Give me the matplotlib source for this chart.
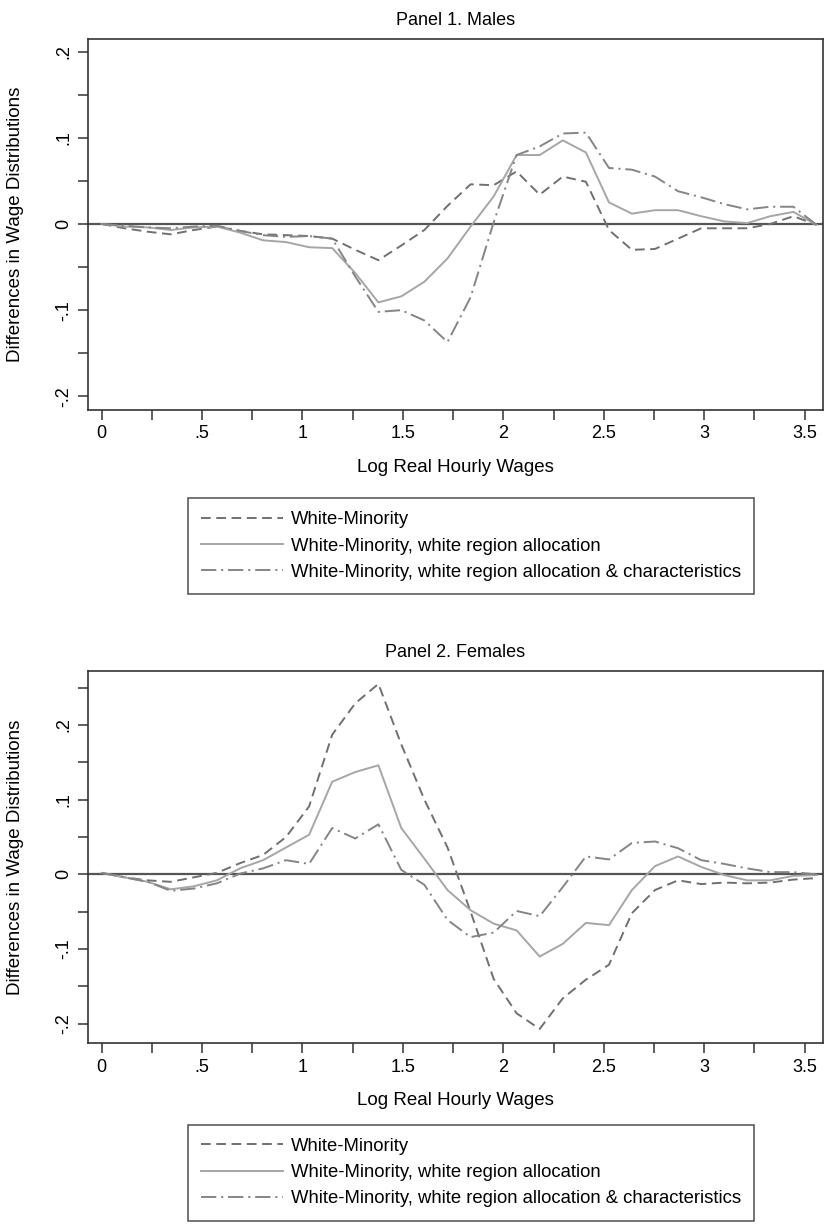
import numpy as np
import matplotlib
matplotlib.use("Agg")
import matplotlib.pyplot as plt

plt.rcParams['font.family'] = ['Liberation Sans', 'DejaVu Sans']
plt.rcParams['lines.scale_dashes'] = False

# log real hourly wage grid (evaluation points)
wage = [0.000, 0.115, 0.230, 0.344, 0.459, 0.574, 0.689, 0.804,
        0.918, 1.033, 1.148, 1.263, 1.378, 1.492, 1.607, 1.722,
        1.837, 1.952, 2.066, 2.181, 2.296, 2.411, 2.526, 2.640,
        2.755, 2.870, 2.985, 3.100, 3.214, 3.329, 3.444, 3.559]

# Panel 1. Males
male_raw = [0.000, -0.005, -0.009, -0.012, -0.007, -0.003, -0.008, -0.012,
            -0.013, -0.014, -0.017, -0.030, -0.042, -0.025, -0.007, 0.021,
            0.046, 0.045, 0.061, 0.034, 0.055, 0.049, -0.007, -0.030,
            -0.029, -0.017, -0.005, -0.005, -0.005, 0.000, 0.009, -0.001]
male_region = [0.000, -0.003, -0.004, -0.007, -0.004, -0.003, -0.010, -0.019,
               -0.021, -0.027, -0.028, -0.057, -0.091, -0.084, -0.067, -0.040,
               -0.003, 0.032, 0.080, 0.080, 0.097, 0.083, 0.025, 0.012,
               0.016, 0.016, 0.009, 0.003, 0.001, 0.009, 0.014, -0.001]
male_chars = [0.000, -0.002, -0.004, -0.005, -0.003, -0.002, -0.008, -0.013,
              -0.015, -0.014, -0.017, -0.061, -0.102, -0.100, -0.112, -0.137,
              -0.085, 0.002, 0.080, 0.090, 0.105, 0.106, 0.065, 0.063,
              0.055, 0.038, 0.031, 0.023, 0.017, 0.020, 0.020, -0.001]

# Panel 2. Females
fem_raw = [0.002, -0.004, -0.008, -0.010, -0.004, 0.002, 0.015, 0.026,
           0.050, 0.091, 0.187, 0.229, 0.255, 0.174, 0.100, 0.036,
           -0.050, -0.140, -0.186, -0.207, -0.166, -0.141, -0.121, -0.052,
           -0.021, -0.008, -0.013, -0.011, -0.012, -0.011, -0.007, -0.005]
fem_region = [0.002, -0.004, -0.010, -0.020, -0.016, -0.008, 0.008, 0.019,
              0.036, 0.053, 0.124, 0.137, 0.146, 0.062, 0.021, -0.021,
              -0.048, -0.066, -0.075, -0.110, -0.093, -0.065, -0.068, -0.021,
              0.011, 0.024, 0.010, -0.001, -0.008, -0.008, -0.002, -0.001]
fem_chars = [0.002, -0.004, -0.010, -0.022, -0.019, -0.012, 0.001, 0.008,
             0.019, 0.014, 0.062, 0.048, 0.067, 0.006, -0.014, -0.061,
             -0.084, -0.078, -0.049, -0.056, -0.017, 0.024, 0.020, 0.042,
             0.044, 0.035, 0.019, 0.014, 0.008, 0.003, 0.003, 0.000]

labels = ['White-Minority',
          'White-Minority, white region allocation',
          'White-Minority, white region allocation & characteristics']
x_major = [0, 0.5, 1, 1.5, 2, 2.5, 3, 3.5]
x_major_lab = ['0', '.5', '1', '1.5', '2', '2.5', '3', '3.5']


def fmt(v):
    s = '%g' % round(v, 2)
    s = s.replace('0.', '.')
    return '0' if s in ('0', '-0') else s


def panel(ax, series, title, ylim, yticks):
    styles = [dict(color='#707070', ls=(0, (7, 4))),
              dict(color='#a6a6a6', ls='-'),
              dict(color='#858585', ls=(0, (11, 3.5, 1.5, 3.5)))]
    ax.axhline(0, color='#555555', lw=1.6, zorder=1)
    for y, st, lab in zip(series, styles, labels):
        ax.plot(wage, y, lw=1.4, label=lab, zorder=2, **st)
    ax.set_xlim(-0.07, 3.59)
    ax.set_ylim(*ylim)
    xt = np.arange(0, 3.51, 0.25)
    ax.set_xticks(xt)
    ax.set_xticklabels([x_major_lab[x_major.index(v)] if v in x_major else ''
                        for v in xt])
    ax.set_yticks(yticks)
    ylab = []
    for v in yticks:
        r = round(v * 10, 6)
        ylab.append(fmt(v) if abs(r - round(r)) < 1e-6 else '')
    ax.set_yticklabels(ylab, rotation=90, va='center')
    ax.tick_params(direction='out', length=7, width=1.1, color='#333333',
                   labelsize=13, pad=4)
    for s in ax.spines.values():
        s.set_color('#333333')
        s.set_linewidth(1.2)
    ax.set_title(title, fontsize=13, pad=10)
    ax.set_xlabel('Log Real Hourly Wages', fontsize=13.5, labelpad=12)
    ax.set_ylabel('Differences in Wage Distributions', fontsize=13.5)
    ax.yaxis.set_label_coords(-0.087, 0.5)


fig = plt.figure(figsize=(8.26, 12.27), dpi=100)
ax1 = fig.add_axes([0.106, 0.6659, 0.890, 0.3027])
ax2 = fig.add_axes([0.106, 0.1497, 0.890, 0.3034])

panel(ax1, [male_raw, male_region, male_chars], 'Panel 1. Males',
      (-0.2158, 0.2152), np.arange(-0.2, 0.201, 0.05))
panel(ax2, [fem_raw, fem_region, fem_chars], 'Panel 2. Females',
      (-0.2262, 0.2722), np.arange(-0.2, 0.251, 0.05))

leg_kw = dict(loc='upper left', fontsize=13.3, frameon=True, fancybox=False,
              handlelength=4.4, handletextpad=0.45, labelspacing=0.5,
              borderpad=0.72, borderaxespad=0)
l1 = ax1.legend(bbox_to_anchor=(0.2276, 0.594), bbox_transform=fig.transFigure,
                **leg_kw)
l2 = ax2.legend(bbox_to_anchor=(0.2276, 0.0835), bbox_transform=fig.transFigure,
                **leg_kw)
for lg in (l1, l2):
    lg.get_frame().set_edgecolor('#333333')
    lg.get_frame().set_linewidth(1.2)

fig.savefig('out.png', dpi=100, facecolor='white')
